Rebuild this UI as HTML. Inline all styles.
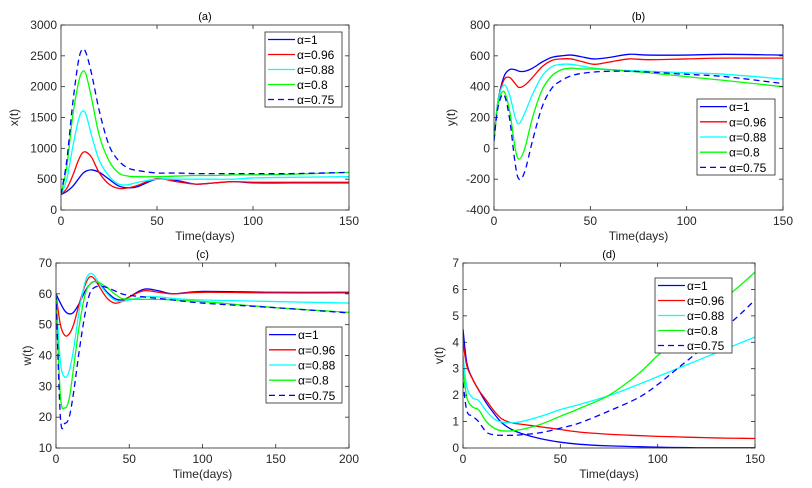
<!DOCTYPE html>
<html><head><meta charset="utf-8"><style>
body{margin:0;background:#fff;width:812px;height:488px;overflow:hidden}
svg{display:block;font-family:"Liberation Sans",sans-serif}
</style></head><body>
<svg id="fig" width="812" height="488" viewBox="0 0 812 488"></svg>
<script>
const alphaLabels = ["α=1","α=0.96","α=0.88","α=0.8","α=0.75"];
// Panel (a) x(t)
const timeA = [0,3,6,9,11,13,16,20,25,30,35,40,50,60,70,80,90,100,120,150];
const xA1   = [250,300,380,500,580,630,650,610,500,390,360,380,500,480,420,440,460,440,440,440];
const xA096 = [250,350,550,800,920,940,850,600,420,350,360,400,510,460,420,440,460,450,450,450];
const xA088 = [250,500,1000,1450,1600,1550,1200,800,550,420,410,450,500,500,500,500,500,520,530,540];
const xA08  = [250,700,1500,2050,2240,2200,1800,1200,800,600,550,540,540,550,560,560,570,570,580,610];
const xA075 = [250,800,1700,2400,2600,2550,2200,1600,1050,800,680,640,600,600,590,590,590,590,590,610];
// Panel (b) y(t)
const timeB = [0,2,5,8,11,13,16,20,25,30,35,40,45,52,60,70,80,100,120,150];
const yB1   = [50,300,460,510,510,500,500,520,560,590,600,605,595,580,590,610,605,605,610,605];
const yB096 = [50,300,440,460,420,395,410,460,530,570,580,580,565,545,560,580,575,580,585,585];
const yB088 = [50,300,410,350,200,160,230,350,470,530,545,545,535,520,510,505,500,490,480,450];
const yB08  = [50,280,370,250,0,-70,0,200,380,470,510,520,515,515,510,500,490,465,440,400];
const yB075 = [50,260,350,200,-100,-200,-150,50,270,390,440,470,485,495,500,500,495,480,465,420];
// Panel (c) w(t)
const timeC = [0,3,6,9,12,16,20,23,26,30,35,40,45,50,60,70,80,100,150,200];
const wC1   = [60,57,54.5,53.5,54,57,61,63,64,63,60.5,58.5,58,59,61.5,61,60,60.8,60.5,60.5];
const wC096 = [60,50,46.5,47,50,57,63,65.5,65,62,58.5,57,57.5,59,61,60.5,60,60.5,60.3,60.3];
const wC088 = [60,38,33,35,42,55,64,66.5,66,63,60,58,57.5,58,59,59,58.5,58,57.5,57];
const wC08  = [60,27,23,26,36,50,60,63,64,63.5,62,60,58.5,58.3,58.2,58.2,58,57.5,55.5,54];
const wC075 = [60,20,18,20,28,42,54,60,62,62.5,62,61,60,59.5,59,58.5,58,57,55.5,53.8];
// Panel (d) v(t)
const timeD = [0,2,5,8,12,16,20,25,30,40,50,60,75,90,100,110,120,130,140,150];
const vD1   = [4.5,3.2,2.6,2.2,1.7,1.3,0.95,0.7,0.55,0.35,0.22,0.14,0.08,0.05,0.03,0.02,0.01,0.01,0.01,0.01];
const vD096 = [4,3.1,2.6,2.2,1.8,1.4,1.1,0.95,0.9,0.8,0.7,0.6,0.52,0.47,0.44,0.42,0.4,0.38,0.37,0.36];
const vD088 = [3.5,2.3,1.9,1.8,1.4,1.1,0.98,0.95,1.0,1.2,1.45,1.65,1.98,2.4,2.7,3.0,3.3,3.6,3.9,4.2];
const vD08  = [3,1.9,1.55,1.45,1.0,0.75,0.65,0.65,0.7,0.9,1.2,1.5,2.0,2.8,3.5,4.1,4.8,5.4,6.0,6.65];
const vD075 = [2.5,1.4,1.2,1.0,0.6,0.5,0.48,0.48,0.5,0.58,0.75,0.95,1.4,1.9,2.4,3.0,3.6,4.3,4.9,5.6];

const xTicksA = [0,50,100,150], yTicksA = [0,500,1000,1500,2000,2500,3000];
const xTicksB = [0,50,100,150], yTicksB = [-400,-200,0,200,400,600,800];
const xTicksC = [0,50,100,150,200], yTicksC = [10,20,30,40,50,60,70];
const xTicksD = [0,50,100,150], yTicksD = [0,1,2,3,4,5,6,7];

const colors = ["#0000ff","#ff0000","#00ffff","#00ff00","#0000ff"];
const NS = "http://www.w3.org/2000/svg";
const svg = document.getElementById("fig");
function mk(tag, attrs, parent){const e=document.createElementNS(NS,tag);for(const k in attrs)e.setAttribute(k,attrs[k]);(parent||svg).appendChild(e);return e;}

function smoothPath(pts){
  let d="M"+pts[0][0].toFixed(2)+","+pts[0][1].toFixed(2);
  for(let i=0;i<pts.length-1;i++){
    const p0=pts[i-1]||pts[i],p1=pts[i],p2=pts[i+1],p3=pts[i+2]||p2;
    const c1=[p1[0]+(p2[0]-p0[0])/6,p1[1]+(p2[1]-p0[1])/6];
    const c2=[p2[0]-(p3[0]-p1[0])/6,p2[1]-(p3[1]-p1[1])/6];
    d+=" C"+c1[0].toFixed(2)+","+c1[1].toFixed(2)+" "+c2[0].toFixed(2)+","+c2[1].toFixed(2)+" "+p2[0].toFixed(2)+","+p2[1].toFixed(2);
  }
  return d;
}

function panel(cfg){
  const g=mk("g",{});
  
  
  const {L,R,T,B,xmin,xmax,ymin,ymax}=cfg;
  const sx=v=>L+(v-xmin)/(xmax-xmin)*(R-L);
  const sy=v=>B-(v-ymin)/(ymax-ymin)*(B-T);
  const clip=mk("clipPath",{id:"clip"+cfg.id},g);
  mk("rect",{x:L,y:T,width:R-L,height:B-T},clip);
  cfg.series.forEach((vals,i)=>{
    const pts=cfg.time.map((t,j)=>[sx(t),sy(vals[j])]);
    const p=mk("path",{d:smoothPath(pts),fill:"none",stroke:colors[i],"stroke-width":1.3,"clip-path":"url(#clip"+cfg.id+")"},g);
    if(i===4)p.setAttribute("stroke-dasharray","6,4");
    
    
  });
  const box=mk("rect",{x:L,y:T,width:R-L,height:B-T,fill:"none",stroke:"#262626","stroke-width":0.8},g);
  
  
  cfg.xt.forEach(v=>{
    const x=sx(v);
    mk("line",{x1:x,x2:x,y1:B,y2:B-4,stroke:"#262626","stroke-width":0.8},g);
    mk("line",{x1:x,x2:x,y1:T,y2:T+4,stroke:"#262626","stroke-width":0.8},g);
    const t=mk("text",{x:x,y:B+15,"font-size":12,"text-anchor":"middle",fill:"#262626"},g);
    t.textContent=v;
    
    
  });
  cfg.yt.forEach(v=>{
    const y=sy(v);
    mk("line",{x1:L,x2:L+4,y1:y,y2:y,stroke:"#262626","stroke-width":0.8},g);
    mk("line",{x1:R,x2:R-4,y1:y,y2:y,stroke:"#262626","stroke-width":0.8},g);
    const t=mk("text",{x:L-4,y:y+4,"font-size":12,"text-anchor":"end",fill:"#262626"},g);
    t.textContent=v;
    
    
  });
  const tt=mk("text",{x:(L+R)/2,y:T-5,"font-size":11,"text-anchor":"middle",fill:"#000"},g);
  tt.textContent="("+cfg.id+")";
  
  
  const xl=mk("text",{x:(L+R)/2,y:B+30,"font-size":12,"text-anchor":"middle",fill:"#262626"},g);
  xl.textContent="Time(days)";
  
  
  const yx=cfg.ylx, yy=(T+B)/2;
  const yl=mk("text",{x:yx,y:yy,"font-size":12,"text-anchor":"middle",fill:"#262626",transform:"rotate(-90 "+yx+" "+yy+")"},g);
  yl.textContent=cfg.ylab;
  
  
  // legend
  const lg=mk("g",{},g);
  
  
  const [lx,ly,lw,lh]=cfg.leg;
  mk("rect",{x:lx,y:ly,width:lw,height:lh,fill:"#fff",stroke:"#262626","stroke-width":0.8},lg);
  const step=lh/5;
  alphaLabels.forEach((lab,i)=>{
    const y=ly+step*(i+0.5);
    const ln=mk("line",{x1:lx+3,x2:lx+30,y1:y,y2:y,stroke:colors[i],"stroke-width":1.3},lg);
    if(i===4)ln.setAttribute("stroke-dasharray","6,4");
    const t=mk("text",{x:lx+32,y:y+4.5,"font-size":12,fill:"#000"},lg);
    t.textContent=lab;
    
    
  });
}

panel({id:"a",L:61,R:349,T:25,B:210,xmin:0,xmax:150,ymin:0,ymax:3000,xt:xTicksA,yt:yTicksA,time:timeA,
  series:[xA1,xA096,xA088,xA08,xA075],ylab:"x(t)",ylx:18,leg:[265,32,77,75]});
panel({id:"b",L:494,R:783,T:25,B:210,xmin:0,xmax:150,ymin:-400,ymax:800,xt:xTicksB,yt:yTicksB,time:timeB,
  series:[yB1,yB096,yB088,yB08,yB075],ylab:"y(t)",ylx:455,leg:[697,99,78,76]});
panel({id:"c",L:56,R:349,T:263,B:448,xmin:0,xmax:200,ymin:10,ymax:70,xt:xTicksC,yt:yTicksC,time:timeC,
  series:[wC1,wC096,wC088,wC08,wC075],ylab:"w(t)",ylx:31,leg:[266,327,76,76]});
panel({id:"d",L:463,R:755,T:263,B:448,xmin:0,xmax:150,ymin:0,ymax:7,xt:xTicksD,yt:yTicksD,time:timeD,
  series:[vD1,vD096,vD088,vD08,vD075],ylab:"v(t)",ylx:443,leg:[655,278,77,75]});
</script>
</body></html>
